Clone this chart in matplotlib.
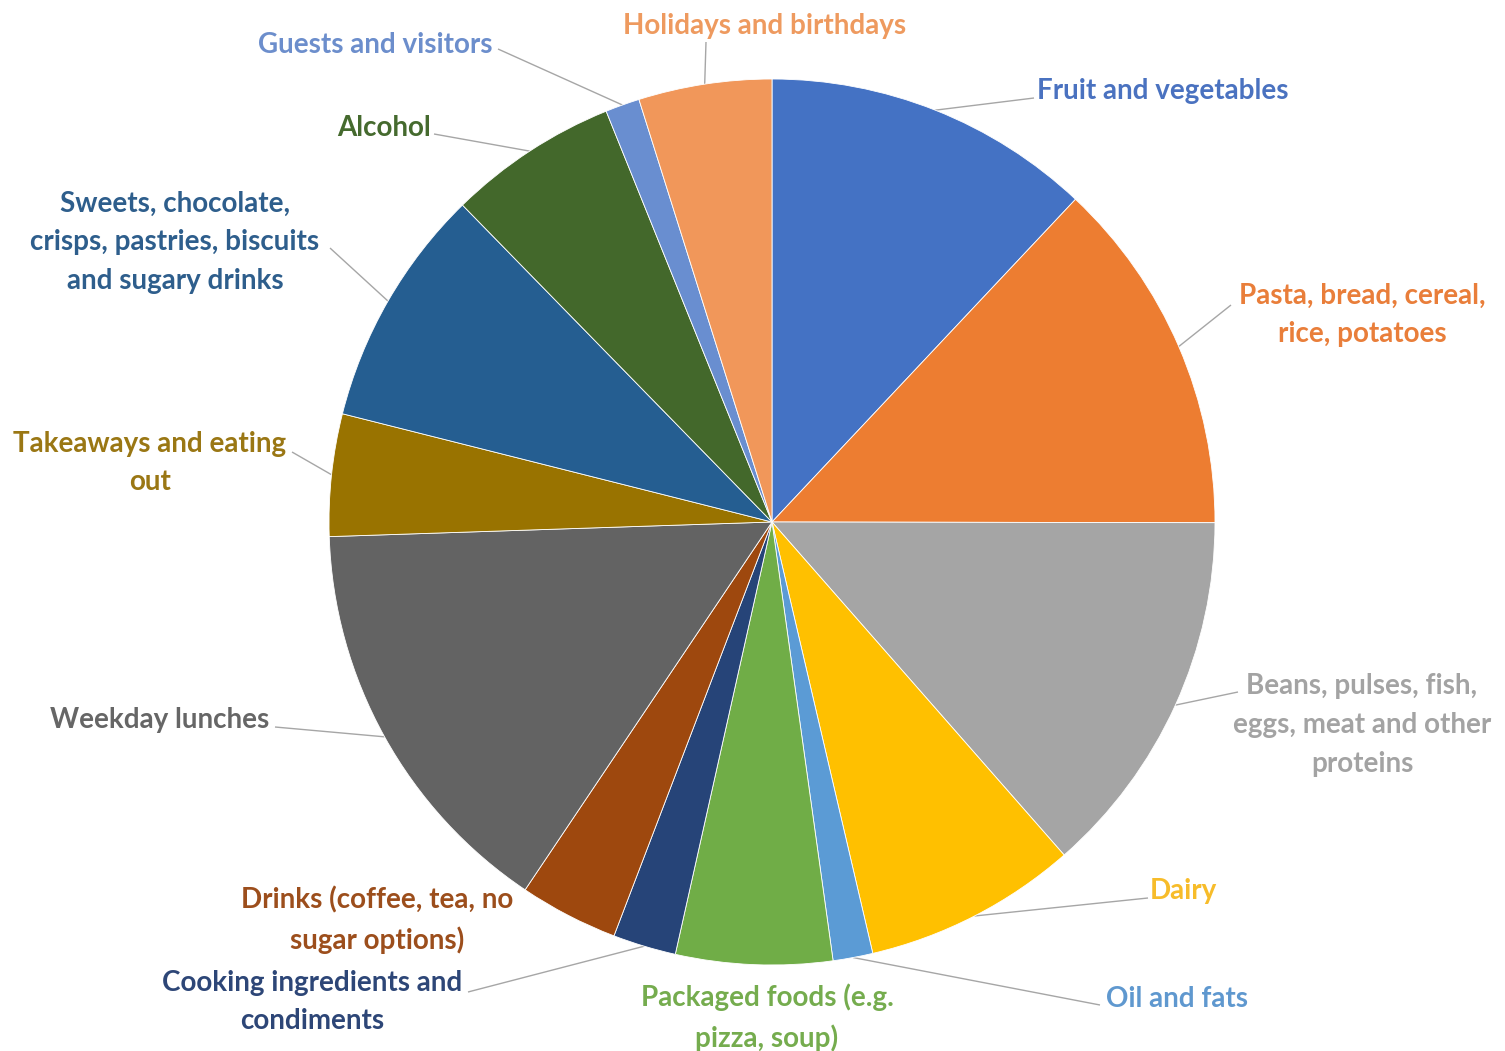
import matplotlib
matplotlib.use("Agg")
import matplotlib.pyplot as plt
import numpy as np

categories = [
    "Fruit and vegetables",
    "Pasta, bread, cereal,\nrice, potatoes",
    "Beans, pulses, fish,\neggs, meat and other\nproteins",
    "Dairy",
    "Oil and fats",
    "Packaged foods (e.g.\npizza, soup)",
    "Cooking ingredients and\ncondiments",
    "Drinks (coffee, tea, no\nsugar options)",
    "Weekday lunches",
    "Takeaways and eating\nout",
    "Sweets, chocolate,\ncrisps, pastries, biscuits\nand sugary drinks",
    "Alcohol",
    "Guests and visitors",
    "Holidays and birthdays",
]
values = [12.0, 13.0, 13.5, 7.8, 1.45, 5.7, 2.3, 3.6, 15.05, 4.45, 8.75, 6.2, 1.25, 4.85]
colors = ["#4472C4", "#ED7D31", "#A5A5A5", "#FFC000", "#5B9BD5", "#70AD47", "#264478",
          "#9E480E", "#636363", "#997300", "#255E91", "#43682B", "#698ED0", "#F1975A"]
text_colors = ["#4A72C0", "#E97E3A", "#A3A3A3", "#F7BC2A", "#5F98CF", "#75AC4E", "#2D4677",
               "#9C4E1C", "#666666", "#9A7714", "#2E5E8C", "#456A2E", "#6C8ECC", "#EE9A5F"]

W, H = 1505, 1051
fig = plt.figure(figsize=(W / 100, H / 100), dpi=100)
ax = fig.add_axes([0, 0, 1, 1])

cx, cy, R = 772, H - 522, 443
wedges, _ = ax.pie(values, colors=colors, startangle=90, counterclock=False,
                   center=(cx, cy), radius=R, frame=True,
                   wedgeprops=dict(edgecolor="white", linewidth=0.6))
ax.set_xlim(0, W)
ax.set_ylim(0, H)
ax.set_aspect("equal")
ax.axis("off")

# label layout: (text x, text y (top-based px), ha, line start (top-based px) or None)
layout = [
    (1037, 91, "left", (1034, 98)),
    (1362, 315, "center", (1231, 305)),
    (1362, 725, "center", (1238, 692)),
    (1183, 891, "center", (1148, 898)),
    (1177, 999, "center", (1100, 1005)),
    (767, 1018, "center", None),
    (312, 1002, "center", (468, 992)),
    (377, 920, "center", None),
    (160, 720, "center", (275, 727)),
    (150, 463, "center", (292, 452)),
    (175, 242, "center", (330, 248)),
    (384, 128, "center", (434, 134)),
    (375, 45, "center", (498, 49)),
    (765, 26, "center", (706, 42)),
]

for w, lab, tc, (tx, ty, ha, ls) in zip(wedges, categories, text_colors, layout):
    mid = np.deg2rad((w.theta1 + w.theta2) / 2.0)
    ex, ey = cx + R * np.cos(mid), cy + R * np.sin(mid)
    if ls is not None:
        sx, sy = ls[0], H - ls[1]
        ax.plot([sx, ex], [sy, ey], color="#A6A6A6", lw=1.0, zorder=0.5,
                solid_capstyle="butt")
    ax.text(tx, H - ty, lab, ha=ha, va="center", multialignment="center",
            fontsize=20, fontweight="bold", family="Lato", color=tc,
            linespacing=1.6)

fig.savefig("out.png", dpi=100)
